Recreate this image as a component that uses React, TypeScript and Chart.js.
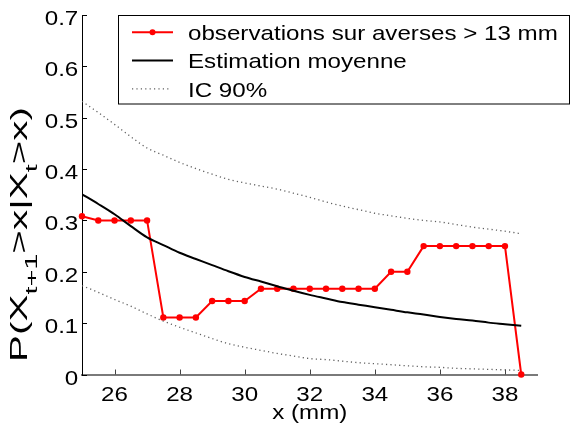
import { useEffect, useRef } from 'react';
import { Chart, registerables } from 'chart.js';

Chart.register(...registerables);

// ---- data ----
const xValues = [25, 25.5, 26, 26.5, 27, 27.5, 28, 28.5, 29, 29.5, 30, 30.5, 31, 31.5, 32, 32.5, 33, 33.5, 34, 34.5, 35, 35.5, 36, 36.5, 37, 37.5, 38, 38.5];
const observed = [0.308, 0.3, 0.3, 0.3, 0.3, 0.111, 0.111, 0.111, 0.143, 0.143, 0.143, 0.167, 0.167, 0.167, 0.167, 0.167, 0.167, 0.167, 0.167, 0.2, 0.2, 0.25, 0.25, 0.25, 0.25, 0.25, 0.25, 0];
const meanEstimate = [0.351, 0.332, 0.312, 0.289, 0.267, 0.252, 0.237, 0.225, 0.213, 0.201, 0.19, 0.181, 0.172, 0.163, 0.155, 0.148, 0.141, 0.136, 0.131, 0.126, 0.121, 0.117, 0.112, 0.108, 0.105, 0.101, 0.098, 0.095];
const ciUpper = [0.532, 0.51, 0.487, 0.463, 0.441, 0.427, 0.413, 0.401, 0.39, 0.38, 0.373, 0.367, 0.361, 0.353, 0.345, 0.336, 0.328, 0.321, 0.314, 0.309, 0.304, 0.3, 0.297, 0.292, 0.287, 0.283, 0.279, 0.274];
const ciLower = [0.173, 0.16, 0.146, 0.133, 0.118, 0.104, 0.092, 0.081, 0.07, 0.06, 0.053, 0.047, 0.041, 0.036, 0.031, 0.029, 0.026, 0.023, 0.021, 0.019, 0.017, 0.015, 0.014, 0.012, 0.011, 0.01, 0.009, 0.008];

const xTickValues = [26, 28, 30, 32, 34, 36, 38];
const xTickLabels = ['26', '28', '30', '32', '34', '36', '38'];
const yTickValues = [0, 0.1, 0.2, 0.3, 0.4, 0.5, 0.6, 0.7];
const yTickLabels = ['0', '0.1', '0.2', '0.3', '0.4', '0.5', '0.6', '0.7'];
const legendLabels = ['observations sur averses > 13 mm', 'Estimation moyenne', 'IC 90%'];
const xTitle = 'x (mm)';
const yTitleParts = [
  { t: 'P(X', sub: false },
  { t: 't+1', sub: true },
  { t: '>x|X', sub: false },
  { t: 't', sub: true },
  { t: '>x)', sub: false },
];

const FAMILY = '"Liberation Sans", Arial, Helvetica, sans-serif';
const FONT = `21px ${FAMILY}`;
const SUB_FONT = `15px ${FAMILY}`;
const SX = 1.15;
const DOT_COLOR = '#606060';
const DOT_DASH = [1.2, 3.2];

function drawText(ctx: CanvasRenderingContext2D, s: string, x: number, y: number, align: CanvasTextAlign) {
  ctx.save();
  ctx.translate(x, y);
  ctx.scale(SX, 1);
  ctx.textAlign = align;
  ctx.textBaseline = 'alphabetic';
  ctx.fillText(s, 0, 0);
  ctx.restore();
}

const decorPlugin = {
  id: 'decor',
  afterDraw(chart: any) {
    const ctx: CanvasRenderingContext2D = chart.ctx;
    const xs = chart.scales.x;
    const ys = chart.scales.y;
    const a = chart.chartArea;
    ctx.save();
    // inward ticks
    ctx.strokeStyle = '#000';
    ctx.lineWidth = 1;
    yTickValues.forEach((v) => {
      const py = Math.round(ys.getPixelForValue(v)) + 0.5;
      ctx.beginPath();
      ctx.moveTo(a.left, py);
      ctx.lineTo(a.left + 5, py);
      ctx.stroke();
    });
    ctx.strokeStyle = '#444';
    xTickValues.forEach((v) => {
      const px = Math.round(xs.getPixelForValue(v)) + 0.5;
      ctx.beginPath();
      ctx.moveTo(px, a.bottom);
      ctx.lineTo(px, a.bottom - 5);
      ctx.stroke();
    });

    // tick labels
    ctx.fillStyle = '#000';
    ctx.font = FONT;
    yTickValues.forEach((v, i) => {
      drawText(ctx, yTickLabels[i], a.left - 3.7, ys.getPixelForValue(v) + 10, 'right');
    });
    xTickValues.forEach((v, i) => {
      drawText(ctx, xTickLabels[i], xs.getPixelForValue(v), a.bottom + 26, 'center');
    });

    // x title
    drawText(ctx, xTitle, (a.left + a.right) / 2, 419, 'center');

    // y title (rotated, with subscripts)
    let W = 0;
    const widths = yTitleParts.map((p) => {
      ctx.font = p.sub ? SUB_FONT : FONT;
      const w = ctx.measureText(p.t).width;
      W += w;
      return w;
    });
    const targetLen = 255;
    ctx.save();
    ctx.translate(26.7, 234.5);
    ctx.rotate(-Math.PI / 2);
    ctx.scale(targetLen / W, 1.1);
    ctx.textAlign = 'left';
    ctx.textBaseline = 'alphabetic';
    let cx = -W / 2;
    yTitleParts.forEach((p, i) => {
      ctx.font = p.sub ? SUB_FONT : FONT;
      ctx.fillText(p.t, cx, p.sub ? 9.5 : 0);
      cx += widths[i];
    });
    ctx.restore();

    // legend
    const bx = 118.5, by = 15.5, bw = 451, bh = 88.5;
    ctx.fillStyle = '#fff';
    ctx.fillRect(bx, by, bw, bh);
    ctx.strokeStyle = '#000';
    ctx.lineWidth = 1;
    ctx.strokeRect(bx, by, bw, bh);
    const rowBase = [40, 68.3, 96.6];
    const x1 = 132, x2 = 173;
    // row 1 red line with marker
    let ly = rowBase[0] - 7.7;
    ctx.strokeStyle = '#ff0000';
    ctx.lineWidth = 2;
    ctx.beginPath();
    ctx.moveTo(x1, ly);
    ctx.lineTo(x2, ly);
    ctx.stroke();
    ctx.fillStyle = '#ff0000';
    ctx.beginPath();
    ctx.arc((x1 + x2) / 2, ly, 3, 0, Math.PI * 2);
    ctx.fill();
    // row 2 black line
    ly = rowBase[1] - 7.7;
    ctx.strokeStyle = '#000';
    ctx.lineWidth = 2;
    ctx.beginPath();
    ctx.moveTo(x1, ly);
    ctx.lineTo(x2, ly);
    ctx.stroke();
    // row 3 dotted
    ly = rowBase[2] - 7.7;
    ctx.strokeStyle = DOT_COLOR;
    ctx.lineWidth = 1.3;
    ctx.setLineDash(DOT_DASH);
    ctx.beginPath();
    ctx.moveTo(x1, ly);
    ctx.lineTo(x2 - 2, ly);
    ctx.stroke();
    ctx.setLineDash([]);
    ctx.fillStyle = '#000';
    ctx.font = FONT;
    legendLabels.forEach((s, i) => drawText(ctx, s, 188, rowBase[i], 'left'));
    ctx.restore();
  },
};

export default function App() {
  const ref = useRef<HTMLCanvasElement | null>(null);
  useEffect(() => {
    document.body.style.margin = '0';
    const canvas = ref.current;
    if (!canvas) return;
    const pts = (vals: number[]) => xValues.map((x, i) => ({ x, y: vals[i] }));
    const dotted = {
      borderColor: DOT_COLOR,
      borderWidth: 1.3,
      borderDash: DOT_DASH,
      pointRadius: 0,
      cubicInterpolationMode: 'monotone' as const,
      fill: false,
      order: 2,
    };
    const chart = new Chart(canvas, {
      type: 'line',
      data: {
        datasets: [
          {
            label: legendLabels[0],
            data: pts(observed),
            borderColor: '#ff0000',
            backgroundColor: '#ff0000',
            pointBackgroundColor: '#ff0000',
            pointBorderWidth: 0,
            pointRadius: 3.2,
            borderWidth: 2,
            tension: 0,
            clip: false as any,
            order: 3,
          },
          {
            label: legendLabels[1],
            data: pts(meanEstimate),
            borderColor: '#000',
            borderWidth: 2,
            pointRadius: 0,
            cubicInterpolationMode: 'monotone',
            order: 1,
          },
          { label: legendLabels[2], data: pts(ciUpper), ...dotted },
          { label: legendLabels[2] + ' ', data: pts(ciLower), ...dotted },
        ],
      },
      options: {
        responsive: false,
        animation: false,
        layout: { padding: { top: 15, right: 33.5, left: 0, bottom: 0 } },
        plugins: { legend: { display: false }, tooltip: { enabled: false } },
        scales: {
          x: {
            type: 'linear',
            min: 25,
            max: 39,
            grid: { display: false },
            border: { display: true, color: '#7a7a7a', width: 2 },
            ticks: { display: false },
            afterBuildTicks: (s: any) => {
              s.ticks = xTickValues.map((v) => ({ value: v }));
            },
            afterFit: (s: any) => {
              s.height = 48.5;
            },
          },
          y: {
            type: 'linear',
            min: 0,
            max: 0.7,
            grid: { display: false },
            border: { display: true, color: '#000', width: 1 },
            ticks: { display: false },
            afterBuildTicks: (s: any) => {
              s.ticks = yTickValues.map((v) => ({ value: v }));
            },
            afterFit: (s: any) => {
              s.width = 82;
            },
          },
        },
      },
      plugins: [decorPlugin],
    });
    return () => chart.destroy();
  }, []);
  return (
    <div style={{ position: 'absolute', left: 0, top: 0, width: 571, height: 423, background: '#fff' }}>
      <canvas ref={ref} width={571} height={423} style={{ width: 571, height: 423, display: 'block' }} />
    </div>
  );
}
